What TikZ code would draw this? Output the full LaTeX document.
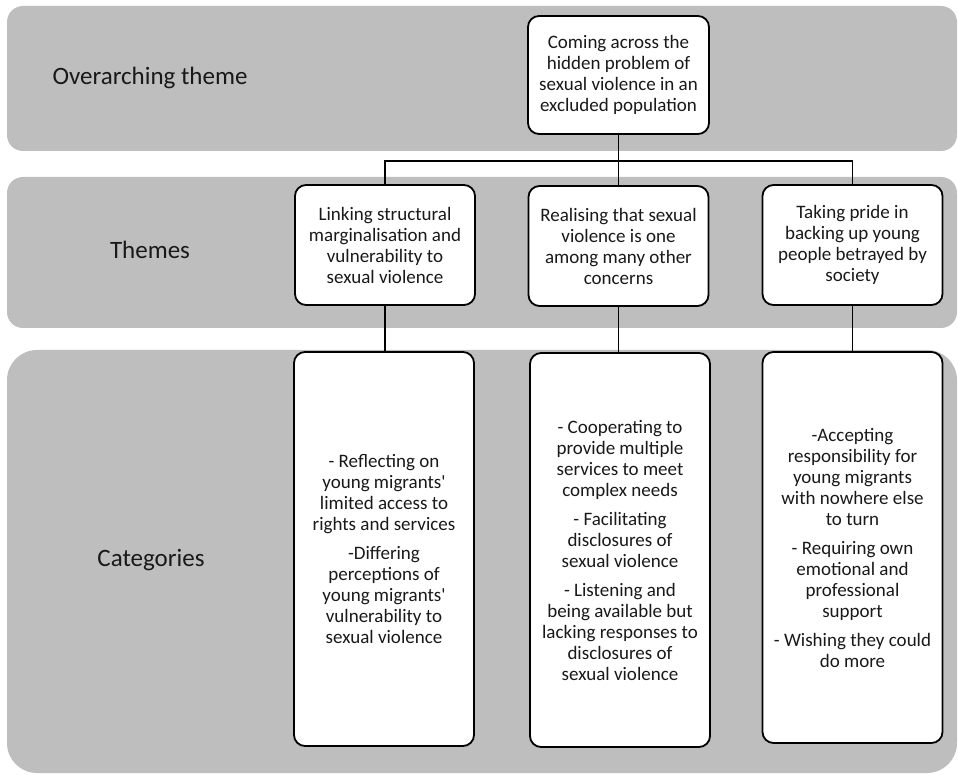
\documentclass[tikz,border=0pt]{standalone}
\usepackage{fontspec}
\setmainfont{Carlito}
\newfontfamily\apofont{Carlito}
\definecolor{bandgray}{RGB}{190,190,190}
\definecolor{txt}{RGB}{25,25,25}
\newcommand{\apo}{{\apofont'}}
\begin{document}
\begin{tikzpicture}[x=1pt,y=-1pt,
  band/.style={fill=bandgray,draw=none},
  lbl/.style={font=\fontsize{25}{30}\selectfont,text=txt},
  cbox/.style={draw=black,line width=1.8pt,fill=white,rounded corners=11pt,
    minimum width=180pt,align=center,inner sep=0pt,text=txt,
    font=\fontsize{19}{21}\selectfont},
  conn/.style={draw=black,line width=1.6pt}]
\useasboundingbox (0,0) rectangle (958,775);
% bands
\fill[band,rounded corners=16pt] (7,6) rectangle (957,151);
\fill[band,rounded corners=16pt] (7,177) rectangle (957,328);
\fill[band,rounded corners=30pt] (7,350) rectangle (957,773);
% row labels
\node[lbl] (lo) at (150,78) {Overarching theme};
\node[lbl] (lt) at (150,250) {Themes};
\node[lbl] (lc) at (151,560) {Categories};
% top box
\node[cbox,minimum width=181pt,minimum height=118pt] (top) at (618.5,75)
  {Coming across the\\hidden problem of\\sexual violence in an\\excluded population};
% themes
\node[cbox,minimum height=120pt] (t1) at (385,245)
  {Linking structural\\marginalisation and\\vulnerability to\\sexual violence};
\node[cbox,minimum height=120pt] (t2) at (618.5,246)
  {Realising that sexual\\violence is one\\among many other\\concerns};
\node[cbox,minimum height=120pt] (t3) at (852.5,245)
  {Taking pride in\\backing up young\\people betrayed by\\society};
% categories
\node[cbox,minimum height=394pt] (c1) at (384,549)
  {- Reflecting on\\young migrants\apo\\limited access to\\rights and services\\[8pt]-Differing\\perceptions of\\young migrants\apo\\vulnerability to\\sexual violence};
\node[cbox,minimum height=394pt] (c2) at (620,550)
  {- Cooperating to\\provide multiple\\services to meet\\complex needs\\[8pt]- Facilitating\\disclosures of\\sexual violence\\[8pt]- Listening and\\being available but\\lacking responses to\\disclosures of\\sexual violence};
\node[cbox,minimum height=391pt] (c3) at (852.5,547.5)
  {-Accepting\\responsibility for\\young migrants\\with nowhere else\\to turn\\[8pt]- Requiring own\\emotional and\\professional\\support\\[8pt]- Wishing they could\\do more};
% connectors
\coordinate (bar) at (0,161);
\draw[conn] (top.south) -- (t2.north);
\draw[conn] (t1.north) -- (t1.north |- bar) -- (t3.north |- bar) -- (t3.north);
\draw[conn] (t1.south) -- (t1.south |- c1.north);
\draw[conn] (t2.south) -- (t2.south |- c2.north);
\draw[conn] (t3.south) -- (t3.south |- c3.north);
\end{tikzpicture}
\end{document}
